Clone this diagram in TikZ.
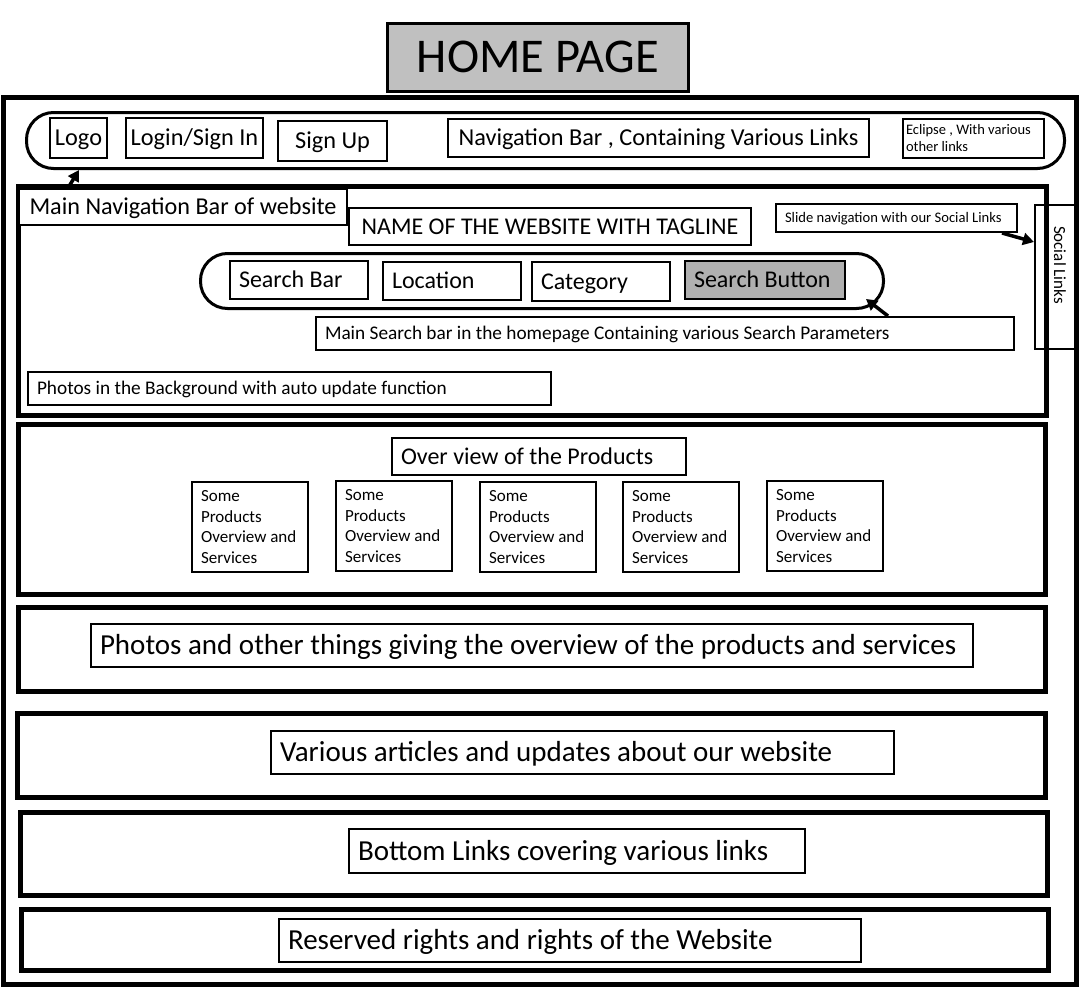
\documentclass[tikz,border=0pt]{standalone}
\usepackage{fontspec}
\setmainfont{Carlito}
\usetikzlibrary{arrows.meta,calc}
\newcommand\fsz[2]{\fontsize{#1}{#2}\selectfont}
% fixed line height (0.25em below, 0.88em above the baseline) so that
% every one-line label sits on the same baseline
\newcommand\linestrut{\rule[-0.25em]{0pt}{1.13em}}
\definecolor{titlegray}{RGB}{192,192,192}
\definecolor{btngray}{RGB}{176,176,176}
\begin{document}
\begin{tikzpicture}[x=1pt,y=-1pt,
  outline/.style={draw, line width=2pt, inner sep=0pt, anchor=north west},
  box/.style={outline, execute at begin node=\linestrut},
  lbox/.style={box, align=flush left, inner xsep=9pt},
  mbox/.style={outline, align=flush left, inner xsep=9pt},
  section/.style={draw, line width=5pt, inner sep=0pt, anchor=north west},
  pill/.style={draw, line width=3pt, rounded corners=27pt, inner sep=0pt, anchor=north west},
  callout/.style={line width=3.5pt, -{Triangle[length=11pt,width=12pt]}},
]
\useasboundingbox (0,0) rectangle (1080,996);
\fill[white] (0,0) rectangle (1080,996);

% page title
\node[box, line width=2.5pt, fill=titlegray, minimum width=301pt, minimum height=68pt,
      font=\fsz{48.5}{52}] (title) at (386,22) {HOME PAGE};

% page frame
\draw[line width=5pt] (3,97) rectangle (1076,984);

% top navigation bar
\node[pill, minimum width=1038pt, minimum height=56pt] (navpill) at (25,111) {};
\node[box, minimum width=57pt, minimum height=40pt, font=\fsz{24.3}{28}] (logo) at (49,117) {Logo};
\node[box, minimum width=137pt, minimum height=40pt, font=\fsz{24.3}{28}] (login) at (125,117) {Login/Sign In};
\node[box, minimum width=109pt, minimum height=40pt, font=\fsz{24.3}{28}] (signup) at (277,120) {Sign Up};
\node[box, minimum width=421pt, minimum height=38pt, font=\fsz{24.3}{28}] (navlinks) at (447,118) {Navigation Bar , Containing Various Links};
\node[mbox, inner xsep=3pt, text width=135pt, minimum height=39pt, font=\fsz{14.5}{17}] (eclipse) at (902,118) {Eclipse , With various\\other links};

% hero section
\node[section, minimum width=1028pt, minimum height=229pt] (hero) at (16,184) {};
\node[box, fill=white, minimum width=328pt, minimum height=36pt, font=\fsz{24.2}{28}] (mainnav) at (18,188) {Main Navigation Bar of website};
\node[box, minimum width=402pt, minimum height=37pt, font=\fsz{24}{28}] (sitename) at (348,207) {NAME OF THE WEBSITE WITH TAGLINE};
\node[lbox, text width=223pt, minimum height=28pt, font=\fsz{14.6}{17}] (slide) at (775,203) {Slide navigation with our Social Links};
\node[outline, minimum width=40pt, minimum height=144pt] (social) at (1034,204) {};
\node[rotate=-90, inner sep=0pt, font=\fsz{17}{20}] (sociallabel) at (1060,265) {Social Links};

\node[pill, minimum width=683pt, minimum height=55pt] (searchpill) at (199,252) {};
\node[lbox, text width=120pt, minimum height=38pt, font=\fsz{24}{28}] (searchbar) at (229,260) {Search Bar};
\node[lbox, text width=120pt, minimum height=38pt, font=\fsz{24}{28}] (location) at (382,261) {Location};
\node[lbox, text width=120pt, minimum height=39pt, font=\fsz{24}{28}] (category) at (531,261) {Category};
\node[lbox, fill=btngray, text width=142pt, minimum height=38pt, font=\fsz{24}{28}] (searchbtn) at (684,260) {Search Button};
\node[lbox, text width=680pt, minimum height=33pt, font=\fsz{19.3}{23}] (searchdesc) at (315,316) {Main Search bar in the homepage Containing various Search Parameters};
\node[lbox, text width=505pt, minimum height=33pt, font=\fsz{19.3}{23}] (bgphotos) at (27,371) {Photos in the Background with auto update function};

% callout arrows
\draw[callout] ([xshift=50pt]mainnav.north west) -- ([xshift=54pt]navpill.south west);
\draw[callout] ([xshift=-16pt]slide.south east) -- ([yshift=-38pt]social.north west);
\draw[callout] ([xshift=573pt]searchdesc.north west) -- ([xshift=-19pt,yshift=11pt]searchpill.south east);

% products overview
\node[section, minimum width=1027pt, minimum height=170pt] (products) at (16,422) {};
\node[lbox, text width=276pt, minimum height=37pt, font=\fsz{24}{28}] (overview) at (391,437) {Over view of the Products};
\foreach \i/\x/\y in {1/191/481, 2/335/480, 3/479/481, 4/622/481, 5/766/480}
  \node[mbox, text width=98pt, minimum height=90pt, font=\fsz{17}{20.5}] (prod\i) at (\x,\y)
    {Some\\Products\\Overview and\\Services};

% lower sections
\node[section, minimum width=1027pt, minimum height=84pt] (photos) at (16,605) {};
\node[lbox, text width=864pt, minimum height=43pt, font=\fsz{29}{33}] (photostext) at (90,623) {Photos and other things giving the overview of the products and services};

\node[section, minimum width=1028pt, minimum height=84pt] (articles) at (15,711) {};
\node[lbox, text width=605pt, minimum height=43pt, font=\fsz{29}{33}] (articlestext) at (270,730) {Various articles and updates about our website};

\node[section, minimum width=1027pt, minimum height=83pt] (bottomlinks) at (18,810) {};
\node[lbox, text width=438pt, minimum height=44pt, font=\fsz{29}{33}] (bottomtext) at (348,828) {Bottom Links covering various links};

\node[section, minimum width=1027pt, minimum height=61pt] (rights) at (19,907) {};
\node[lbox, text width=564pt, minimum height=43pt, font=\fsz{29}{33}] (rightstext) at (278,918) {Reserved rights and rights of the Website};
\end{tikzpicture}
\end{document}
